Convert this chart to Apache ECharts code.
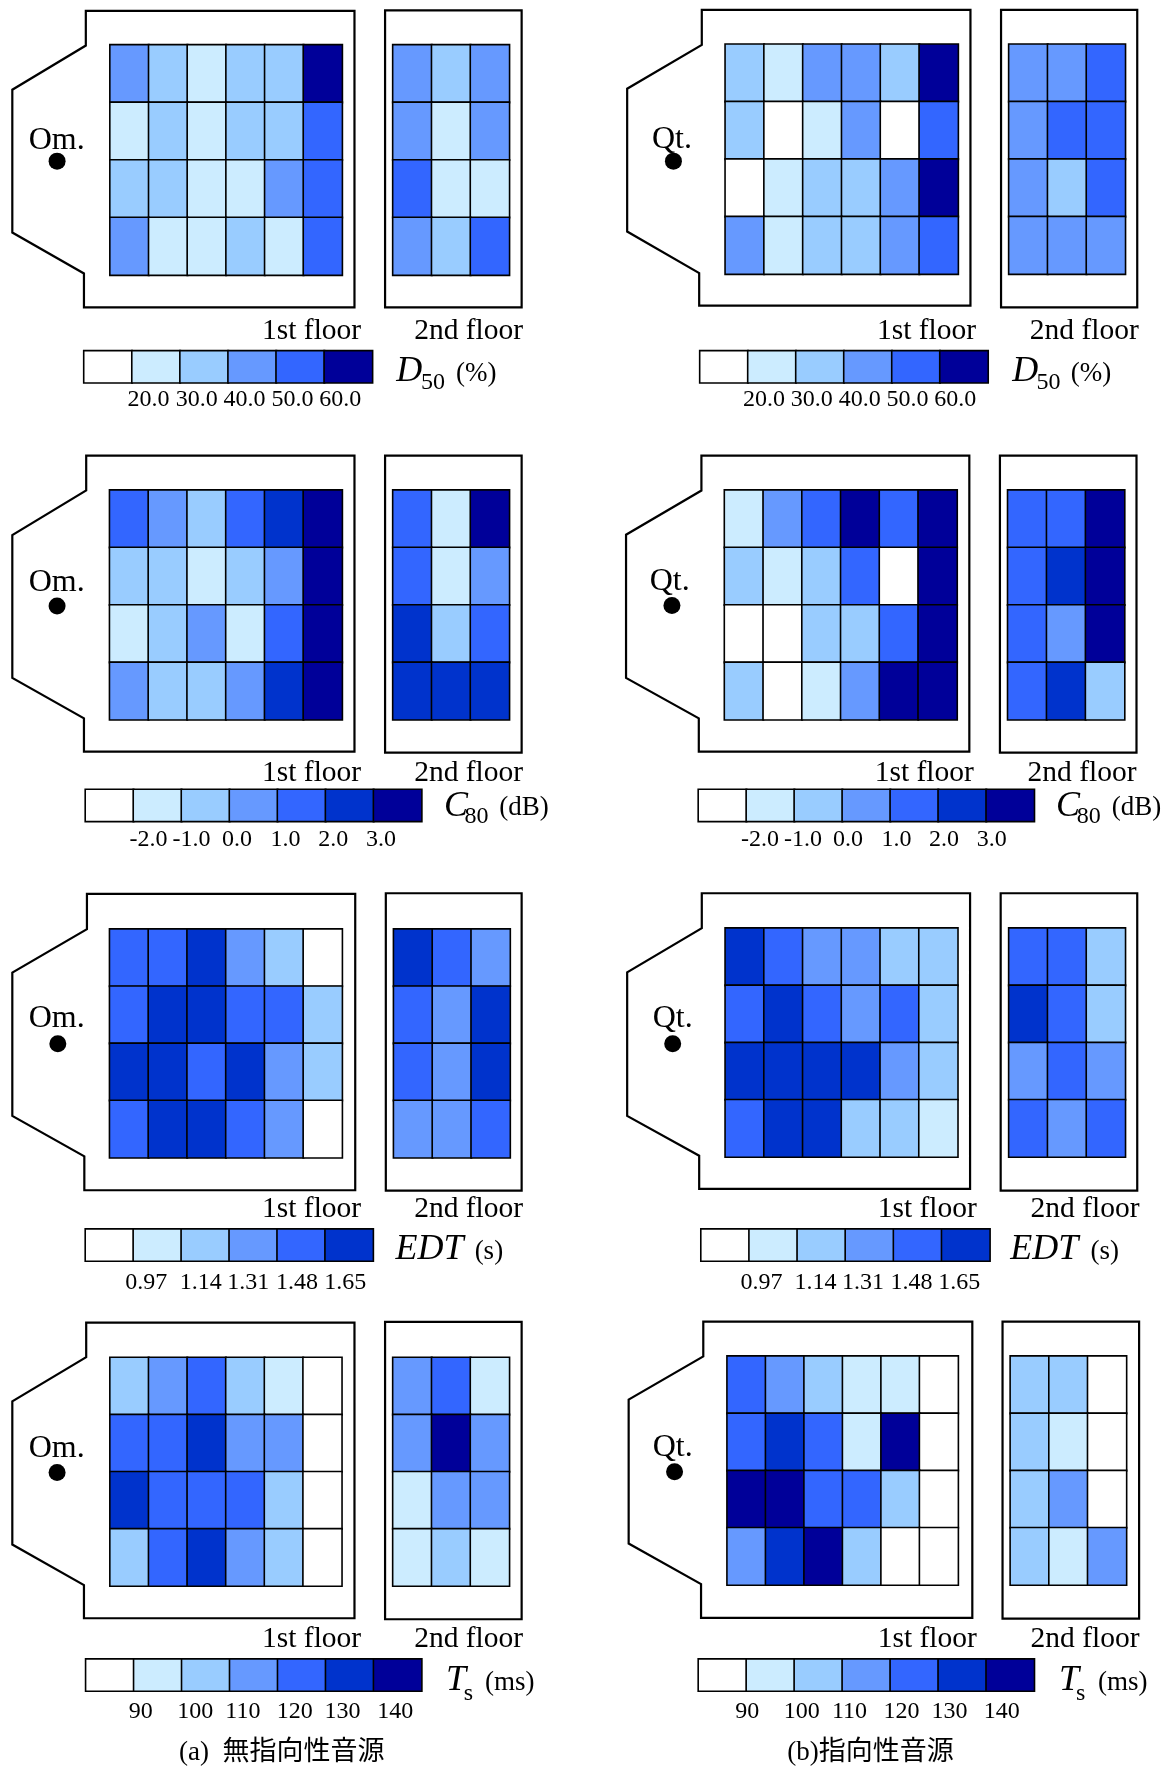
<!DOCTYPE html>
<html><head><meta charset="utf-8">
<style>html,body{margin:0;padding:0;background:#fff}#c{width:1170px;height:1769px}</style>
<script src="https://cdn.jsdelivr.net/npm/echarts@6/dist/echarts.min.js"></script>
</head><body><div id="c"></div>
<script>
// ---------- data (estimated value inside the class shown by each cell; rows front to back) ----------
const C6 = ['#FFFFFF','#CCECFF','#99CCFF','#6699FF','#3366FF','#000099'];
const C6E = ['#FFFFFF','#CCECFF','#99CCFF','#6699FF','#3366FF','#0033CC'];
const C7 = ['#FFFFFF','#CCECFF','#99CCFF','#6699FF','#3366FF','#0033CC','#000099'];

const d50Ticks = [20,30,40,50,60];
const d50Labels = ['20.0','30.0','40.0','50.0','60.0'];
const d50Legend = [15,25,35,45,55,65];
const c80Ticks = [-2,-1,0,1,2,3];
const c80Labels = ['-2.0','-1.0','0.0','1.0','2.0','3.0'];
const c80Legend = [-2.5,-1.5,-0.5,0.5,1.5,2.5,3.5];
const edtTicks = [0.97,1.14,1.31,1.48,1.65];
const edtLabels = ['0.97','1.14','1.31','1.48','1.65'];
const edtLegend = [0.90,1.05,1.22,1.39,1.56,1.72];
const tsTicks = [90,100,110,120,130,140];
const tsLabels = ['90','100','110','120','130','140'];
const tsLegend = [85,95,105,115,125,135,145];

const d50OmF1 = [[45,35,25,35,35,65],[25,35,25,35,35,55],[35,35,25,25,45,55],[45,25,25,35,25,55]];
const d50OmF2 = [[45,35,45],[45,25,45],[55,25,25],[45,35,55]];
const d50QtF1 = [[35,25,45,45,35,65],[35,15,25,45,15,55],[15,25,35,35,45,65],[45,25,35,35,45,55]];
const d50QtF2 = [[45,45,55],[45,55,55],[45,35,55],[45,45,45]];

const c80OmF1 = [[1.5,0.5,-0.5,1.5,2.5,3.5],[-0.5,-0.5,-1.5,-0.5,0.5,3.5],[-1.5,-0.5,0.5,-1.5,1.5,3.5],[0.5,-0.5,-0.5,0.5,2.5,3.5]];
const c80OmF2 = [[1.5,-1.5,3.5],[1.5,-1.5,0.5],[2.5,-0.5,1.5],[2.5,2.5,2.5]];
const c80QtF1 = [[-1.5,0.5,1.5,3.5,1.5,3.5],[-0.5,-1.5,-0.5,1.5,-2.5,3.5],[-2.5,-2.5,-0.5,-0.5,1.5,3.5],[-0.5,-2.5,-1.5,0.5,3.5,3.5]];
const c80QtF2 = [[1.5,1.5,3.5],[1.5,2.5,3.5],[1.5,0.5,3.5],[1.5,2.5,-0.5]];

const edtOmF1 = [[1.56,1.56,1.72,1.39,1.22,0.90],[1.56,1.72,1.72,1.56,1.56,1.22],[1.72,1.72,1.56,1.72,1.39,1.22],[1.56,1.72,1.72,1.56,1.39,0.90]];
const edtOmF2 = [[1.72,1.56,1.39],[1.56,1.39,1.72],[1.56,1.39,1.72],[1.39,1.39,1.56]];
const edtQtF1 = [[1.72,1.56,1.39,1.39,1.22,1.22],[1.56,1.72,1.56,1.39,1.56,1.22],[1.72,1.72,1.72,1.72,1.39,1.22],[1.56,1.72,1.72,1.22,1.22,1.05]];
const edtQtF2 = [[1.56,1.56,1.22],[1.72,1.56,1.22],[1.39,1.56,1.39],[1.56,1.39,1.56]];

const tsOmF1 = [[105,115,125,105,95,85],[125,125,135,115,115,85],[135,125,125,125,105,85],[105,125,135,115,105,85]];
const tsOmF2 = [[115,125,95],[115,145,115],[95,115,115],[95,105,95]];
const tsQtF1 = [[125,115,105,95,95,85],[125,135,125,95,145,85],[145,145,125,125,105,85],[115,135,145,105,85,85]];
const tsQtF2 = [[105,105,85],[105,95,85],[105,115,85],[105,95,115]];

const Kx = 2.68, Ky = 3.01, TEXT_DY = 2.5;
const panels = [
 {ox:0,oy:0,data:[d50OmF1,d50OmF2],ticks:d50Ticks,labels:d50Labels,legend:d50Legend,colors:C6,src:'Om.',
  outline:[[230,33],[950,33],[950,925],[225,925],[225,823],[33,700],[33,270],[230,137]],
  g1:[295,917],g2:[1053,1365],gy:[135,828],box2:[1032,1398,31,925],cb:[225,998,1056,1152],lx:[398,527,655,784,912],ly:1193,
  fr:[968,1402],fy:990,sx:152,sy:415,dx:153,dy:485,t:{s:'D',x:1062,y:1112,sub:'50',subx:1128,suby:1145,u:'(%)',ux:1222,uy:1118}},
 {ox:585,oy:0,data:[d50QtF1,d50QtF2],ticks:d50Ticks,labels:d50Labels,legend:d50Legend,colors:C6,src:'Qt.',
  outline:[[313,30],[1033,30],[1033,920],[306,920],[306,822],[113,697],[113,267],[313,135]],
  g1:[376,1000],g2:[1136,1448],gy:[133,825],box2:[1115,1480,30,925],cb:[308,1080,1056,1152],lx:[480,608,736,864,992],ly:1193,
  fr:[1048,1484],fy:990,sx:233,sy:412,dx:237,dy:485,t:{s:'D',x:1145,y:1112,sub:'50',subx:1210,suby:1145,u:'(%)',ux:1302,uy:1118}},
 {ox:0,oy:440,data:[c80OmF1,c80OmF2],ticks:c80Ticks,labels:c80Labels,legend:c80Legend,colors:C7,src:'Om.',
  outline:[[231,47],[950,47],[950,938],[225,938],[225,838],[33,716],[33,286],[231,152]],
  g1:[294,917],g2:[1053,1365],gy:[151,842],box2:[1032,1398,47,941],cb:[229,1130,1052,1148],lx:[398,513,635,765,893,1021],ly:1193,
  fr:[968,1402],fy:997,sx:152,sy:423,dx:153,dy:500,t:{s:'C',x:1190,y:1095,sub:'80',subx:1245,suby:1125,u:'(dB)',ux:1338,uy:1100}},
 {ox:585,oy:440,data:[c80QtF1,c80QtF2],ticks:c80Ticks,labels:c80Labels,legend:c80Legend,colors:C7,src:'Qt.',
  outline:[[312,47],[1030,47],[1030,938],[305,938],[305,838],[110,716],[110,285],[312,152]],
  g1:[374,997],g2:[1133,1446],gy:[151,842],box2:[1112,1478,47,941],cb:[304,1204,1052,1148],lx:[469,584,705,835,962,1090],ly:1193,
  fr:[1042,1478],fy:997,sx:227,sy:420,dx:233,dy:498,t:{s:'C',x:1262,y:1095,sub:'80',subx:1318,suby:1125,u:'(dB)',ux:1412,uy:1100}},
 {ox:0,oy:870,data:[edtOmF1,edtOmF2],ticks:edtTicks,labels:edtLabels,legend:edtLegend,colors:C6E,src:'Om.',
  outline:[[233,72],[952,72],[952,964],[226,964],[226,862],[33,740],[33,309],[233,178]],
  g1:[294,917],g2:[1055,1367],gy:[178,866],box2:[1034,1398,70,965],cb:[229,1000,1081,1177],lx:[392,538,665,796,925],ly:1232,
  fr:[968,1402],fy:1015,sx:152,sy:440,dx:155,dy:523,t:{s:'EDT',x:1060,y:1135,u:'(s)',ux:1272,uy:1142}},
 {ox:585,oy:870,data:[edtQtF1,edtQtF2],ticks:edtTicks,labels:edtLabels,legend:edtLegend,colors:C6E,src:'Qt.',
  outline:[[313,70],[1032,70],[1032,960],[306,960],[306,860],[113,740],[113,308],[313,175]],
  g1:[376,999],g2:[1136,1448],gy:[175,864],box2:[1114,1480,70,965],cb:[311,1085,1081,1177],lx:[473,618,745,875,1003],ly:1232,
  fr:[1050,1486],fy:1015,sx:235,sy:440,dx:235,dy:523,t:{s:'EDT',x:1140,y:1135,u:'(s)',ux:1355,uy:1142}},
 {ox:0,oy:1300,data:[tsOmF1,tsOmF2],ticks:tsTicks,labels:tsLabels,legend:tsLegend,colors:C7,src:'Om.',
  outline:[[231,68],[950,68],[950,958],[225,958],[225,858],[33,736],[33,305],[231,172]],
  g1:[295,916],g2:[1053,1365],gy:[173,861],box2:[1032,1398,66,961],cb:[230,1130,1081,1177],lx:[377,523,651,790,918,1059],ly:1230,
  fr:[968,1402],fy:1015,sx:152,sy:440,dx:153,dy:519,t:{s:'T',x:1195,y:1138,sub:'s',subx:1243,suby:1178,u:'(ms)',ux:1300,uy:1145}},
 {ox:585,oy:1300,data:[tsQtF1,tsQtF2],ticks:tsTicks,labels:tsLabels,legend:tsLegend,colors:C7,src:'Qt.',
  outline:[[317,65],[1038,65],[1038,957],[311,957],[311,855],[117,733],[117,300],[317,170]],
  g1:[381,1000],g2:[1140,1451],gy:[169,858],box2:[1119,1485,65,959],cb:[304,1204,1081,1177],lx:[435,581,709,848,977,1117],ly:1230,
  fr:[1050,1486],fy:1015,sx:235,sy:437,dx:240,dy:517,t:{s:'T',x:1270,y:1138,sub:'s',subx:1316,suby:1178,u:'(ms)',ux:1375,uy:1145}}
];
const captions = [
 {text:'(a)  無指向性音源',x:755/Kx,y:1300+1352/Ky+4},
 {text:'(b)指向性音源',x:585+765/Kx,y:1300+1352/Ky+4}
];

const SERIF = '"Liberation Serif","DejaVu Serif",serif';
const grid=[],xAxis=[],yAxis=[],series=[],graphic=[];

function colorOf(v,ticks,colors){
  let i=0; while(i<ticks.length && v>=ticks[i]) i++;
  return colors[i];
}
function addHeat(rows,p,x0,x1,y0,y1){
  const gi=grid.length;
  grid.push({left:x0,top:y0,width:x1-x0,height:y1-y0,containLabel:false});
  const xa=xAxis.length, ya=yAxis.length;
  xAxis.push({type:'category',gridIndex:gi,show:false,data:rows[0].map((_,i)=>i)});
  yAxis.push({type:'category',gridIndex:gi,show:false,inverse:true,data:rows.map((_,i)=>i)});
  const d=[];
  rows.forEach((r,j)=>r.forEach((v,i)=>d.push({value:[i,j,v],itemStyle:{color:colorOf(v,p.ticks,p.colors)}})));
  series.push({type:'heatmap',xAxisIndex:xa,yAxisIndex:ya,data:d,silent:true,progressive:0,animation:false,
    itemStyle:{borderColor:'#000',borderWidth:1.6}});
}
function text(s,x,y,size,opt){
  graphic.push({type:'text',silent:true,x:x,y:y+TEXT_DY,style:Object.assign({text:s,fontFamily:SERIF,fontSize:size,fill:'#000',
    textAlign:'left',textVerticalAlign:'middle'},opt||{})});
}

panels.forEach(p=>{
  const X=v=>p.ox+v/Kx, Y=v=>p.oy+v/Ky;
  // room outlines
  graphic.push({type:'polygon',silent:true,shape:{points:p.outline.map(a=>[X(a[0]),Y(a[1])])},
    style:{fill:'none',stroke:'#000',lineWidth:2.2,lineJoin:'miter'}});
  const b=p.box2;
  graphic.push({type:'rect',silent:true,shape:{x:X(b[0]),y:Y(b[2]),width:(b[1]-b[0])/Kx,height:(b[3]-b[2])/Ky},
    style:{fill:'none',stroke:'#000',lineWidth:2.2}});
  // seating cells
  addHeat(p.data[0],p,X(p.g1[0]),X(p.g1[1]),Y(p.gy[0]),Y(p.gy[1]));
  addHeat(p.data[1],p,X(p.g2[0]),X(p.g2[1]),Y(p.gy[0]),Y(p.gy[1]));
  // colour scale
  const n=p.legend.length, c=p.cb, cx0=X(c[0]), cx1=X(c[1]), cy0=Y(c[2]), cy1=Y(c[3]);
  addHeat([p.legend],p,cx0,cx1,cy0,cy1);
  const gi=grid.length-1;
  const pos=p.lx.map(v=>(X(v)-cx0)/(cx1-cx0)*n);
  xAxis.push({type:'value',gridIndex:gi,position:'bottom',min:0,max:n,
    axisLine:{show:false},axisTick:{show:false},splitLine:{show:false},
    axisLabel:{show:true,customValues:pos,
      formatter:v=>{let b=0;pos.forEach((q,i)=>{if(Math.abs(q-v)<Math.abs(pos[b]-v))b=i;});return p.labels[b];},
      fontFamily:SERIF,fontSize:24,color:'#000',
      margin:(Y(p.ly)-cy1)-9,hideOverlap:false,showMinLabel:true,showMaxLabel:true}});
  // texts
  text('1st floor',X(p.fr[0]),Y(p.fy),29.5,{textAlign:'right'});
  text('2nd floor',X(p.fr[1]),Y(p.fy),29.5,{textAlign:'right'});
  text(p.src,X(p.sx),Y(p.sy),32,{textAlign:'center'});
  graphic.push({type:'circle',silent:true,shape:{cx:X(p.dx),cy:Y(p.dy),r:8.5},style:{fill:'#000'}});
  const t=p.t;
  text(t.s,X(t.x),Y(t.y),36,{fontStyle:'italic'});
  if(t.sub) text(t.sub,X(t.subx),Y(t.suby),24);
  text(t.u,X(t.ux),Y(t.uy),27);
});
captions.forEach(c=>{
  graphic.push({type:'text',silent:true,x:c.x,y:c.y,style:{text:c.text,
    fontFamily:'"Liberation Serif","Noto Sans CJK JP",sans-serif',fontSize:27,fill:'#000',textAlign:'center',textVerticalAlign:'middle'}});
});

const chart=echarts.init(document.getElementById('c'),null,{renderer:'canvas',width:1170,height:1769});
chart.setOption({backgroundColor:'#fff',animation:false,grid,xAxis,yAxis,series,graphic:{elements:graphic}});
</script></body></html>
